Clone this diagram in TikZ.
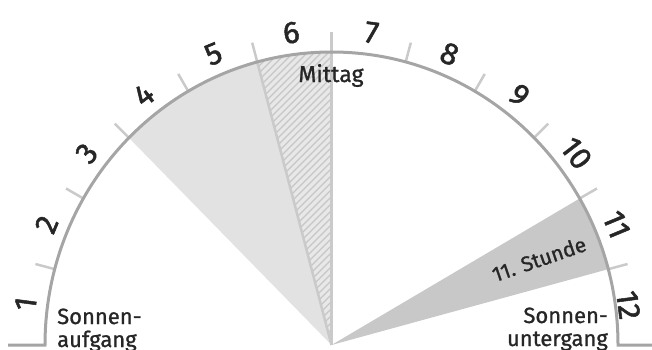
\documentclass[tikz,border=0pt]{standalone}
\usepackage{fontspec}
\setmainfont{Fira Sans}
\newfontfamily\medfont{Fira Sans}[FakeBold=1.0]
\newfontfamily\digfont{Fira Sans}[FakeBold=1.6]
\definecolor{arcgray}{RGB}{165,165,165}
\definecolor{tickgray}{RGB}{202,202,202}
\definecolor{lightfill}{RGB}{226,226,226}
\definecolor{hatchbg}{RGB}{232,232,232}
\definecolor{hatchline}{RGB}{198,198,198}
\definecolor{darkfill}{RGB}{200,200,200}
\definecolor{txt}{RGB}{38,38,38}
\tikzset{
  hourlabel/.style={text=txt, font=\digfont\fontsize{31}{31}\selectfont, inner sep=0pt},
  infotext/.style={text=txt, font=\medfont\fontsize{22}{25}\selectfont, inner sep=0pt},
  tickline/.style={draw=tickgray, line width=2.5pt},
  arcline/.style={draw=arcgray, line width=3pt},
}
\begin{document}
\begin{tikzpicture}[x=1pt,y=1pt]
\useasboundingbox (0,0) rectangle (652,349);
\def\cx{331.5}\def\cy{4}\def\ra{286.5}\def\rb{293}
\coordinate (O) at (\cx,\cy);
\foreach \a in {15,30,...,165}{
  \coordinate (P\a) at ({\cx+\ra*cos(\a)},{\cy+\rb*sin(\a)});
  \coordinate (Q\a) at ({\cx+(\ra+20)*cos(\a)},{\cy+(\rb+20)*sin(\a)});
}
% light sector (hours 4-5)
\fill[lightfill] (O) -- (P135) arc[start angle=135,end angle=105,x radius=\ra,y radius=\rb] -- cycle;
% hatched sector (hour 6)
\begin{scope}
  \clip (O) -- (P105) arc[start angle=105,end angle=90,x radius=\ra,y radius=\rb] -- cycle;
  \fill[hatchbg] (200,0) rectangle (360,349);
  \foreach \i in {0,...,60}
    \draw[hatchline, line width=1.2pt] ({-80+7*\i},0) -- ++(400,400);
\end{scope}
% dark sector (hour 11)
\fill[darkfill] (O) -- (P30) arc[start angle=30,end angle=15,x radius=\ra,y radius=\rb] -- cycle;
% boundary lines
\draw[tickline, line width=3pt] (O) -- (Q90);
\draw[tickline] (O) -- (Q105);
% ticks
\foreach \a in {15,30,45,60,75,120,135,150,165}
  \draw[tickline] (P\a) -- (Q\a);
% arc
\coordinate (L) at (8,\cy);
\coordinate (R) at (652,\cy);
\draw[arcline] (L) -- ({\cx-\ra},\cy) arc[start angle=180,end angle=0,x radius=\ra,y radius=\rb] -- (R);
% hour numbers
\foreach \k in {1,...,11}{
  \pgfmathsetmacro{\ang}{187.5-15*\k}
  \node[hourlabel, rotate=\ang-90] (h\k) at ({\cx+(\ra+22)*cos(\ang)},{\cy+(\rb+22)*sin(\ang)}) {\k};
}
\node[hourlabel, rotate=-82.5] (h12) at ({\cx+(\ra+13)*cos(7.5)},{\cy+(\rb+13)*sin(7.5)}) {12};
% texts
\node[infotext, anchor=base west] (sa1) at (57,25) {Sonnen-};
\node[infotext, anchor=base west] (sa2) at (57,2) {aufgang};
\node[infotext, anchor=base east] (su1) at (608,26) {Sonnen-};
\node[infotext, anchor=base east] (su2) at (608,3) {untergang};
\node[infotext, font=\medfont\fontsize{23}{26}\selectfont, anchor=base] (mt) at (331,267) {Mittag};
\node[infotext, font=\medfont\fontsize{21}{24}\selectfont, rotate=19] (st) at (539,90) {11. Stunde};
\end{tikzpicture}
\end{document}
